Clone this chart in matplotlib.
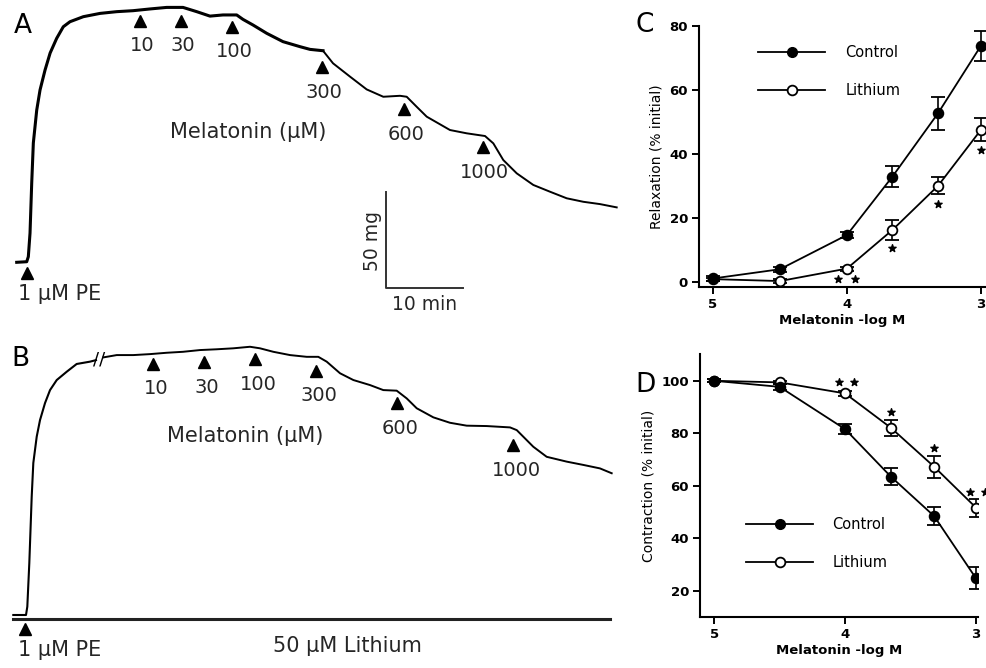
import matplotlib
matplotlib.use('Agg')
import matplotlib.pyplot as plt
from matplotlib.lines import Line2D

W, H = 986, 668
plt.rcParams['font.family'] = ['DejaVu Sans']

# ---------------- data ----------------
dose_labels = ['10', '30', '100', '300', '600', '1000']

# Panel A trace: time (min) and tension (mg)
a_time = [0, 1.30, 1.51, 1.73, 1.95, 2.16, 2.60, 3.03, 3.68, 4.34, 5.19, 6.05, 6.92, 8.65,
          10.82, 12.99, 15.10, 17.31, 19.48, 21.60, 23.38, 25.10, 26.79, 28.57, 29.39, 30.69,
          32.47, 34.58, 36.79, 38.09, 39.78, 41.08, 43.29, 45.45, 47.61, 49.78, 50.65, 51.95,
          53.25, 56.27, 58.44, 60.82, 61.90, 63.19, 64.94, 67.09, 69.26, 71.43, 73.58, 75.75,
          77.92]
a_mg = [0, 0.3, 2.9, 15.1, 41.0, 61.7, 78.7, 89.1, 99.4, 108.2, 115.8, 121.8, 124.4, 127.0,
        128.7, 129.6, 130.1, 131.0, 131.8, 131.8, 129.6, 127.3, 127.9, 127.9, 125.6, 122.7,
        118.4, 114.1, 111.5, 110.1, 109.4, 102.9, 96.0, 89.4, 85.6, 86.1, 85.6, 80.4,
        75.3, 68.4, 66.7, 65.3, 61.5, 52.9, 46.0, 40.0, 36.5, 33.1, 31.3, 30.1,
        28.4]
a_dose_time = [16.01, 21.34, 28.0, 39.69, 50.34, 60.52]
a_dose_mg = [124.9, 124.9, 121.8, 100.8, 79.1, 59.5]
a_pe = [1.30, -5.4]

# Panel B trace
b_time1 = [0, 1.65, 1.82, 2.08, 2.39, 2.60, 3.04, 3.47, 4.12, 4.77, 5.64, 6.94, 8.23, 9.96, 10.74]
b_mg1 = [0, 0, 4.3, 26.9, 61.2, 78.6, 92.2, 100.8, 109.6, 116.3, 121.5, 125.8, 129.8, 131.0, 131.8]
b_time2 = [11.69, 13.43, 15.58, 17.75, 19.92, 22.04, 24.25, 26.42, 28.57, 30.74, 32.04, 33.77,
           35.94, 38.10, 39.61, 40.70, 42.43, 44.16, 46.32, 48.05, 49.79, 51.09, 52.39, 54.55,
           56.71, 58.88, 61.48, 64.51, 65.38, 67.53, 69.27, 71.87, 74.03, 76.19, 77.71]
b_mg2 = [133.2, 134.4, 134.4, 134.9, 135.6, 136.1, 137.0, 137.4, 137.9, 138.7, 137.9, 136.1,
         134.4, 133.5, 133.5, 131.0, 125.0, 121.5, 118.9, 116.3, 116.0, 112.0, 106.9, 102.2,
         99.4, 97.9, 97.7, 97.0, 95.6, 87.0, 81.8, 79.3, 77.6, 75.8, 73.3]
b_dose_time = [18.18, 24.77, 31.39, 39.31, 49.87, 64.94]
b_dose_mg = [129.8, 130.6, 132.2, 126.3, 109.4, 87.9]
b_pe = [1.52, -7.4]
b_lithium_t = [-0.04, 77.5]
b_lithium_mg = [-2.2, -2.2]

# Panel C: relaxation
c_x = [5, 4.5, 4, 3.66, 3.32, 3]
c_ctrl = [1.0, 3.9, 14.6, 32.9, 52.7, 73.8]
c_ctrl_err = [0.8, 0.8, 1.0, 3.4, 5.1, 4.7]
c_li = [0.8, 0.2, 4.1, 16.2, 30.0, 47.5]
c_li_err = [0.5, 0.5, 0.6, 3.0, 2.6, 3.6]
c_star_x = [4.065, 3.94, 3.66, 3.32, 3.0]
c_star_y = [0.7, 0.7, 10.4, 24.3, 41.2]

# Panel D: contraction
d_x = [5, 4.5, 4, 3.65, 3.32, 3]
d_ctrl = [100, 97.7, 81.6, 63.5, 48.5, 24.8]
d_ctrl_err = [0.5, 1.2, 1.8, 3.3, 3.5, 4.2]
d_li = [100, 99.4, 95.2, 82.1, 67.3, 51.7]
d_li_err = [0.5, 0.5, 0.8, 3.1, 4.2, 3.4]
d_star_x = [4.05, 3.93, 3.65, 3.32, 3.044, 2.93]
d_star_y = [99.6, 99.6, 88.2, 74.3, 57.8, 57.8]

# ---------------- figure ----------------
fig = plt.figure(figsize=(W / 100, H / 100), dpi=100)


def rect(l, t, r, b):
    return [l / W, 1 - b / H, (r - l) / W, (b - t) / H]


def ftext(x, y, s, **kw):
    fig.text(x / W, 1 - y / H, s, **kw)


TXT = '#262626'
NUM_FS = 14
WORD_FS = 15

# ----- Panel A -----
axA = fig.add_axes(rect(0, 0, 620, 330))
axA.set_xlim(-2.169, 78.35)
axA.set_ylim(-35.0, 135.63)
axA.axis('off')
axA.plot(a_time[:31], a_mg[:31], color='k', lw=2.2, solid_joinstyle='round')
axA.plot(a_time[30:], a_mg[30:], color='k', lw=1.4, solid_joinstyle='round')
axA.plot(a_dose_time, a_dose_mg, ls='none', marker='^', ms=8, color='k')
axA.plot([a_pe[0]], [a_pe[1]], ls='none', marker='^', ms=8, color='k')
for t, m, lab in zip(a_dose_time, a_dose_mg, dose_labels):
    axA.annotate(lab, (t, m), xytext=(2, -25), textcoords='offset pixels',
                 ha='center', va='center', fontsize=NUM_FS, color=TXT)
axA.annotate('1 µM PE', tuple(a_pe), xytext=(-9, -21), textcoords='offset pixels',
             ha='left', va='center', fontsize=WORD_FS, color=TXT)
# scale bar: 50 mg / 10 min
sb_t, sb_m = 47.96, -13.4
axA.plot([sb_t, sb_t, sb_t + 10], [sb_m + 50, sb_m, sb_m], color='#333333', lw=1.4)
ftext(372, 241, '50 mg', rotation=90, ha='center', va='center', fontsize=13.5, color=TXT)
ftext(425, 304, '10 min', ha='center', va='center', fontsize=13.5, color=TXT)
ftext(248, 132, 'Melatonin (µM)', ha='center', va='center', fontsize=WORD_FS, color=TXT)
ftext(23, 26, 'A', ha='center', va='center', fontsize=19, color='k')

# ----- Panel B -----
axB = fig.add_axes(rect(0, 330, 620, 668))
axB.set_xlim(-1.727, 78.79)
axB.set_ylim(-27.41, 147.37)
axB.axis('off')
axB.plot(b_time1, b_mg1, color='k', lw=1.5)
axB.plot(b_time2, b_mg2, color='k', lw=1.4)
axB.plot(b_lithium_t, b_lithium_mg, color='#222222', lw=2.2)
axB.plot(b_dose_time, b_dose_mg, ls='none', marker='^', ms=8, color='k')
axB.plot([b_pe[0]], [b_pe[1]], ls='none', marker='^', ms=8, color='k')
for t, m, lab in zip(b_dose_time, b_dose_mg, dose_labels):
    axB.annotate(lab, (t, m), xytext=(3, -25), textcoords='offset pixels',
                 ha='center', va='center', fontsize=NUM_FS, color=TXT)
axB.annotate('1 µM PE', tuple(b_pe), xytext=(-7, -21), textcoords='offset pixels',
             ha='left', va='center', fontsize=WORD_FS, color=TXT)
axB.text(11.2, 132.3, '//', ha='center', va='center', fontsize=13, color='k')
ftext(245, 436, 'Melatonin (µM)', ha='center', va='center', fontsize=WORD_FS, color=TXT)
ftext(347, 646, '50 µM Lithium', ha='center', va='center', fontsize=WORD_FS, color=TXT)
ftext(20, 359, 'B', ha='center', va='center', fontsize=19, color='k')


# ----- dose-response panels -----
def style_ax(ax):
    for s in ['top', 'right']:
        ax.spines[s].set_visible(False)
    for s in ['left', 'bottom']:
        ax.spines[s].set_linewidth(1.5)
    ax.tick_params(direction='out', length=5, width=1.4, labelsize=9.5, pad=3)
    for lab in ax.get_xticklabels() + ax.get_yticklabels():
        lab.set_fontweight('bold')


def curves(ax, x, yc, ec, yl, el):
    kw = dict(color='k', lw=1.3, ms=7, capsize=5, elinewidth=1.2, capthick=1.2, mew=1.3)
    h2 = ax.errorbar(x, yl, yerr=el, fmt='-o', mfc='white', mec='k', zorder=3, **kw)
    h1 = ax.errorbar(x, yc, yerr=ec, fmt='-o', mfc='k', mec='k', zorder=4, **kw)
    return h1, h2


axC = fig.add_axes(rect(699, 26, 986, 287))
curves(axC, c_x, c_ctrl, c_ctrl_err, c_li, c_li_err)
axC.scatter(c_star_x, c_star_y, marker='*', s=30, color='k', zorder=5, clip_on=False)
axC.set_xlim(5.104, 2.962)
axC.set_ylim(-1.66, 80)
axC.set_xticks([5, 4, 3])
axC.set_xticklabels(['5', '4', '3'])
axC.set_yticks([0, 20, 40, 60, 80])
axC.set_ylabel('Relaxation (% initial)', fontsize=10, labelpad=4)
axC.set_xlabel('Melatonin -log M', fontsize=9.5, fontweight='bold', labelpad=2)
style_ax(axC)
hc = Line2D([], [], color='k', lw=1.3, marker='o', ms=7, mfc='k')
hl = Line2D([], [], color='k', lw=1.3, marker='o', ms=7, mfc='white', mew=1.3)
axC.legend([hc, hl], ['Control', 'Lithium'], loc='upper left', bbox_to_anchor=(0.2056, 0.927),
           frameon=False, borderaxespad=0, borderpad=0, handlelength=4.6,
           handletextpad=1.4, labelspacing=1.55, fontsize=10.5)
ftext(645, 25, 'C', ha='center', va='center', fontsize=19)

axD = fig.add_axes(rect(700, 354, 978, 617))
curves(axD, d_x, d_ctrl, d_ctrl_err, d_li, d_li_err)
axD.scatter(d_star_x, d_star_y, marker='*', s=30, color='k', zorder=5, clip_on=False)
axD.set_xlim(5.108, 2.985)
axD.set_ylim(10.1, 110.2)
axD.set_xticks([5, 4, 3])
axD.set_xticklabels(['5', '4', '3'])
axD.set_yticks([20, 40, 60, 80, 100])
axD.set_ylabel('Contraction (% initial)', fontsize=10, labelpad=4)
axD.set_xlabel('Melatonin -log M', fontsize=9.5, fontweight='bold', labelpad=2)
style_ax(axD)
axD.legend([hc, hl], ['Control', 'Lithium'], loc='upper left', bbox_to_anchor=(0.1667, 0.380),
           frameon=False, borderaxespad=0, borderpad=0, handlelength=4.6,
           handletextpad=1.3, labelspacing=1.55, fontsize=10.5)
ftext(645, 385, 'D', ha='center', va='center', fontsize=19)

fig.savefig('out.png', dpi=100)
